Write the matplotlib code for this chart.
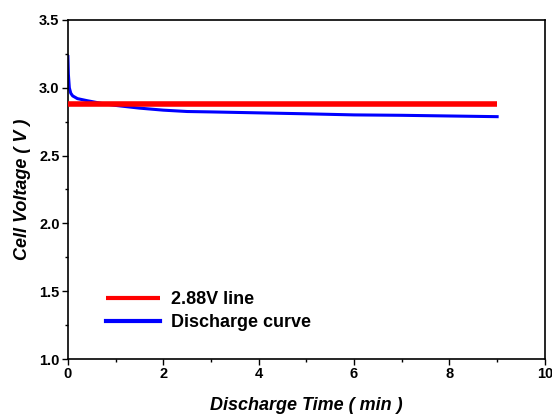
import matplotlib
matplotlib.use("Agg")
from matplotlib import pyplot as plt
from matplotlib.ticker import MultipleLocator

# discharge curve
time_min = [0.0, 0.01, 0.03, 0.06, 0.1, 0.2, 0.4, 0.7, 1.0, 1.5, 2.0, 2.5, 3.0, 4.0, 5.0, 6.0, 7.0, 8.0, 9.0]
voltage = [3.23, 3.1, 3.0, 2.96, 2.94, 2.92, 2.905, 2.885, 2.87, 2.85, 2.835, 2.825, 2.822, 2.815, 2.808, 2.80, 2.797, 2.792, 2.787]

ref_time = [0.0, 9.0]
ref_volt = [2.88, 2.88]

plt.rcParams['font.family'] = ['Liberation Sans', 'DejaVu Sans']

fig = plt.figure(figsize=(5.52, 4.16), dpi=100)
ax = fig.add_axes([0.123, 0.137, 0.864, 0.815])

ax.plot(ref_time, ref_volt, color='#ff0000', linewidth=4, label='2.88V line',
        solid_capstyle='butt', zorder=3)
ax.plot(time_min, voltage, color='#0000ff', linewidth=2.2, label='Discharge curve', zorder=2)

ax.set_xlim(0, 10)
ax.set_ylim(1.0, 3.5)
ax.xaxis.set_major_locator(MultipleLocator(2))
ax.xaxis.set_minor_locator(MultipleLocator(1))
ax.yaxis.set_major_locator(MultipleLocator(0.5))
ax.yaxis.set_minor_locator(MultipleLocator(0.25))
ax.yaxis.set_major_formatter(plt.FormatStrFormatter('%.1f'))
ax.tick_params(which='major', length=4, width=1, labelsize=10.5, pad=2)
ax.tick_params(which='minor', length=2.5, width=1)
for lbl in ax.get_xticklabels() + ax.get_yticklabels():
    lbl.set_fontweight('bold')
for s in ax.spines.values():
    s.set_linewidth(1.2)

ax.set_xlabel('Discharge Time ( min )', fontsize=13, style='italic', fontweight='bold', labelpad=11)
ax.set_ylabel('Cell Voltage ( V )', fontsize=13, style='italic', fontweight='bold', labelpad=6)

leg = ax.legend(loc='lower left', bbox_to_anchor=(0.045, 0.035), frameon=False,
                prop={'weight': 'bold', 'size': 13}, handlelength=3.0, handletextpad=0.6,
                labelspacing=0.3)
for h in leg.get_lines():
    h.set_linewidth(3)

fig.savefig('out.png', dpi=100)
